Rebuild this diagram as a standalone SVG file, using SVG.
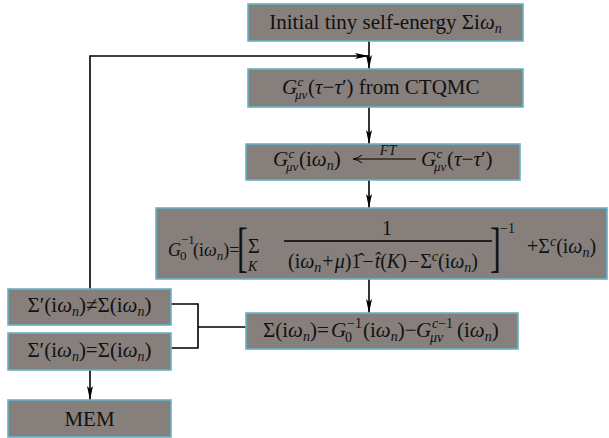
<svg xmlns="http://www.w3.org/2000/svg" width="609" height="438" viewBox="0 0 609 438">
<style>
.box{fill:#867f7c;stroke:#66b3c9;stroke-width:1.6}
text{font-family:"Liberation Serif","Times New Roman",serif;fill:#111}
.b{font-size:21px}
.l{font-size:20px}
.m{font-size:18px}
.s{font-size:14px}
.t{font-size:13px}
.c{text-anchor:middle}
.i{font-style:italic}
.ln{fill:none;stroke:#000;stroke-width:1.6}
</style>
<defs>
<marker id="ah" markerUnits="userSpaceOnUse" viewBox="0 0 14 6" refX="14" refY="3" markerWidth="14" markerHeight="6" orient="auto">
<path d="M0,0 L14,3 L0,6 L3,3 z" fill="#000"/>
</marker>
</defs>
<rect width="609" height="438" fill="#fff"/>
<g id="connectors">
<path class="ln" d="M369,41 V69" marker-end="url(#ah)"/>
<path class="ln" d="M90,289 V56 H369" marker-end="url(#ah)"/>
<path class="ln" d="M369,107 V144" marker-end="url(#ah)"/>
<path class="ln" d="M369,180 V208" marker-end="url(#ah)"/>
<path class="ln" d="M369,279 V313" marker-end="url(#ah)"/>
<path class="ln" d="M171,304 H198 V348 H171 M198,327 H246"/>
<path class="ln" d="M90,370 V400" marker-end="url(#ah)"/>
</g>
<g id="init">
<rect class="box" x="248" y="4" width="275" height="37"/>
<text class="b c" x="385.5" y="29">Initial tiny self-energy Σi<tspan class="i">ω</tspan><tspan class="i s" dy="4">n</tspan></text>
</g>
<g id="ctqmc">
<rect class="box" x="248" y="69" width="275" height="38"/>
<text class="b" x="282" y="94"><tspan class="i">G</tspan><tspan class="i t" x="297.5" dy="-8">c</tspan><tspan class="i t" x="295" dy="13">μν</tspan><tspan x="308" dy="-5">(</tspan><tspan class="i">τ</tspan>−<tspan class="i">τ</tspan>′) from CTQMC</text>
</g>
<g id="ft">
<rect class="box" x="246" y="144" width="274" height="36"/>
<text class="b" x="273" y="166"><tspan class="i">G</tspan><tspan class="i t" x="288.5" dy="-8">c</tspan><tspan class="i t" x="286" dy="13">μν</tspan><tspan x="299" dy="-5">(i</tspan><tspan class="i">ω</tspan><tspan class="i s" dy="4">n</tspan><tspan dy="-4">)</tspan></text>
<path d="M356,159 H416" stroke="#000" stroke-width="1.1"/>
<path d="M362,155 Q358,158.5 353,159 Q358,159.5 362,163" stroke="#000" stroke-width="1" fill="none"/>
<text class="i s c" x="388" y="155">FT</text>
<text class="b" x="421" y="166"><tspan class="i">G</tspan><tspan class="i t" x="436.5" dy="-8">c</tspan><tspan class="i t" x="434" dy="13">μν</tspan><tspan x="447" dy="-5">(</tspan><tspan class="i">τ</tspan>−<tspan class="i">τ</tspan>′)</text>
</g>
<g id="g0">
<rect class="box" x="156" y="208" width="451" height="71"/>
<text class="m" x="168" y="256"><tspan class="i">G</tspan><tspan class="t" x="181" y="244">−1</tspan><tspan class="t" x="180" y="260">0</tspan><tspan x="193" y="256">(i</tspan><tspan class="i">ω</tspan><tspan class="t i" dy="4">n</tspan><tspan dy="-4">)=</tspan></text>
<text x="237" y="266" style="font-size:54px" transform="translate(237,266) scale(0.6,1) translate(-237,-266)">[</text>
<text class="l" x="248" y="253">Σ</text>
<text class="i s" x="248" y="271">K</text>
<path d="M284,241 H492" stroke="#000" stroke-width="1.4"/>
<text class="l c" x="387" y="235">1</text>
<text class="l" x="288" y="268">(i<tspan class="i">ω</tspan><tspan class="i s" dy="4">n</tspan><tspan dx="1" dy="-4">+</tspan><tspan class="i" dx="1">μ</tspan>)1̂<tspan dx="1">−</tspan><tspan class="i" dx="1">t̂</tspan>(<tspan class="i">K</tspan>)<tspan dx="1">−</tspan><tspan dx="1">Σ</tspan><tspan class="i s" dy="-7">c</tspan><tspan dy="7">(i</tspan><tspan class="i">ω</tspan><tspan class="i s" dy="4">n</tspan><tspan dy="-4">)</tspan></text>
<text x="490" y="266" style="font-size:54px" transform="translate(490,266) scale(0.6,1) translate(-490,-266)">]</text>
<text class="s" x="500" y="233">−1</text>
<text class="l" x="527" y="253">+Σ<tspan class="i s" dy="-7">c</tspan><tspan dy="7">(i</tspan><tspan class="i">ω</tspan><tspan class="i s" dy="4">n</tspan><tspan dy="-4">)</tspan></text>
</g>
<g id="sigma">
<rect class="box" x="246" y="313" width="272" height="36"/>
<text class="b" x="263" y="337">Σ(i<tspan class="i">ω</tspan><tspan class="i s" dy="4">n</tspan><tspan dy="-4">)=</tspan><tspan class="i" x="331">G</tspan><tspan class="s" x="347" y="328">−1</tspan><tspan class="s" x="345" y="342">0</tspan><tspan x="363" y="337">(i</tspan><tspan class="i">ω</tspan><tspan class="i s" dy="4">n</tspan><tspan dy="-4">)−</tspan><tspan class="i" x="416">G</tspan><tspan class="s" x="432" y="328"><tspan class="i">c</tspan>−1</tspan><tspan class="s i" x="430" y="342">μν</tspan><tspan x="457" y="337">(i</tspan><tspan class="i">ω</tspan><tspan class="i s" dy="4">n</tspan><tspan dy="-4">)</tspan></text>
</g>
<g id="neq">
<rect class="box" x="8" y="289" width="163" height="36"/>
<text class="b c" x="89.5" y="312">Σ′(i<tspan class="i">ω</tspan><tspan class="i s" dy="4">n</tspan><tspan dy="-4">)≠Σ(i</tspan><tspan class="i">ω</tspan><tspan class="i s" dy="4">n</tspan><tspan dy="-4">)</tspan></text>
</g>
<g id="eq">
<rect class="box" x="8" y="333" width="163" height="37"/>
<text class="b c" x="89.5" y="357">Σ′(i<tspan class="i">ω</tspan><tspan class="i s" dy="4">n</tspan><tspan dy="-4">)=Σ(i</tspan><tspan class="i">ω</tspan><tspan class="i s" dy="4">n</tspan><tspan dy="-4">)</tspan></text>
</g>
<g id="mem">
<rect class="box" x="8" y="400" width="163" height="37"/>
<text class="b c" x="89.5" y="426">MEM</text>
</g>
</svg>
